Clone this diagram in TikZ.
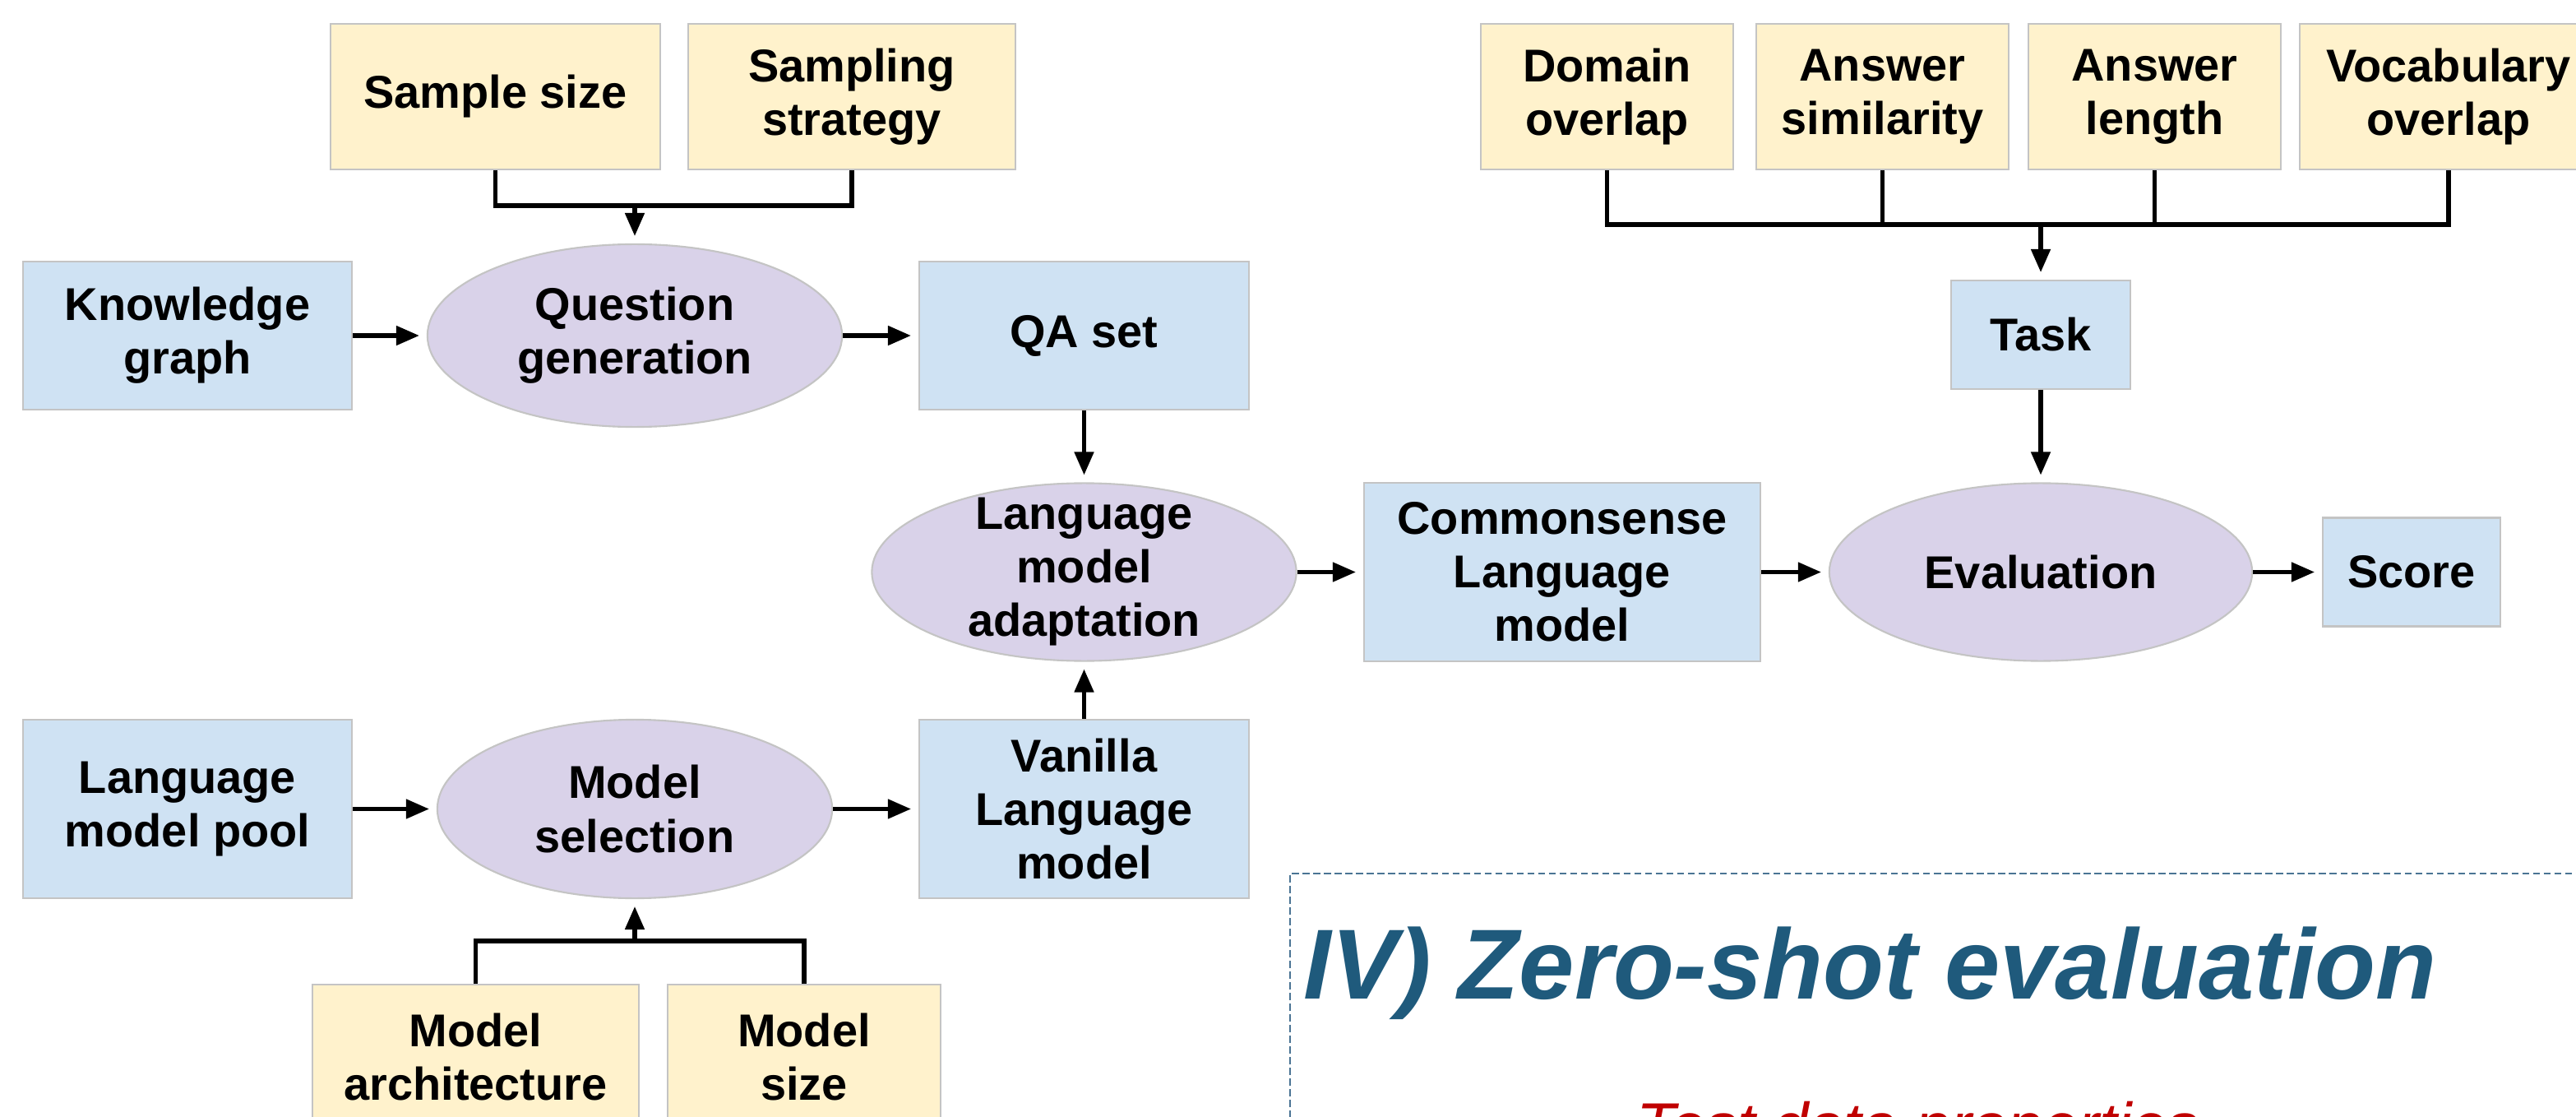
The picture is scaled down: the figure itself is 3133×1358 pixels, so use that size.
\documentclass[tikz,border=0pt]{standalone}
\usepackage{fontspec}
\setmainfont{Liberation Sans}
\usetikzlibrary{arrows.meta,shapes.geometric}

\definecolor{factorfill}{HTML}{FFF2CC}
\definecolor{datafill}{HTML}{CFE2F3}
\definecolor{procfill}{HTML}{D9D2E9}
\definecolor{rimgray}{HTML}{C4C4C4}
\definecolor{titleblue}{HTML}{1F5A7C}
\definecolor{frameblue}{HTML}{4A7494}
\definecolor{notered}{HTML}{C00000}

\begin{document}
\begin{tikzpicture}[x=0.01cm,y=-0.01cm,
  boxtext/.style={font=\bfseries\fontsize{15.9}{18.5}\selectfont, align=center},
  framed/.style={draw=rimgray, line width=0.6pt, inner sep=0pt},
  factorbox/.style={boxtext, framed, rectangle, fill=factorfill},
  databox/.style={boxtext, framed, rectangle, fill=datafill},
  procshape/.style={framed, ellipse, fill=procfill},
  proctext/.style={boxtext, inner sep=0pt},
  link/.style={line width=1.5pt, line join=miter},
  flow/.style={link, -{Triangle[length=8pt,width=6.5pt]}, shorten >=2.5pt},
]
\useasboundingbox (0,0) rectangle (3133,1358);
\fill[white] (0,0) rectangle (3133,1358);
\clip (0,0) rectangle (3133,1358);

% --- question generation branch ---
\node[factorbox, minimum width=4.01cm, minimum height=1.77cm] (ss) at (602.5,117.5) {Sample size};
\node[factorbox, minimum width=3.98cm, minimum height=1.77cm] (st) at (1036,117.5) {Sampling\\strategy};
\node[databox, minimum width=4.00cm, minimum height=1.80cm] (kg) at (228,408) {Knowledge\\graph};
\node[procshape, minimum width=5.04cm, minimum height=2.22cm] (qg) at (772,408) {};
\node[proctext] (qgt) at (qg) {Question\\generation};
\node[databox, minimum width=4.01cm, minimum height=1.80cm] (qa) at (1318.5,408) {QA set};

% --- model selection branch ---
\node[databox, minimum width=4.00cm, minimum height=2.17cm] (pool) at (228,983.5) {Language\\model pool};
\node[procshape, minimum width=4.80cm, minimum height=2.17cm] (ms) at (772,983.5) {};
\node[proctext] (mst) at (ms) {Model\\selection};
\node[databox, minimum width=4.01cm, minimum height=2.17cm] (van) at (1318.5,983.5) {Vanilla\\Language\\model};
\node[factorbox, minimum width=3.97cm, minimum height=1.76cm] (arch) at (578.5,1285) {Model\\architecture};
\node[factorbox, minimum width=3.32cm, minimum height=1.76cm] (msz) at (978,1285) {Model\\size};

% --- adaptation and evaluation ---
\node[procshape, minimum width=5.16cm, minimum height=2.16cm] (lma) at (1318.5,695.5) {};
\node[proctext] (lmat) at (lma) {Language\\model\\adaptation};
\node[databox, minimum width=4.82cm, minimum height=2.17cm] (clm) at (1900,695.5) {Commonsense\\Language\\model};
\node[procshape, minimum width=5.14cm, minimum height=2.16cm] (ev) at (2482,695.5) {};
\node[proctext] (evt) at (ev) {Evaluation};
\node[databox, minimum width=2.16cm, minimum height=1.32cm] (score) at (2933,695.5) {Score};
\node[databox, minimum width=2.18cm, minimum height=1.32cm] (task) at (2482,407) {Task};

% --- test data properties ---
\node[factorbox, minimum width=3.07cm, minimum height=1.77cm] (dom) at (1954.5,117.5) {Domain\\overlap};
\node[factorbox, minimum width=3.07cm, minimum height=1.77cm] (sim) at (2289.5,117.5) {Answer\\similarity};
\node[factorbox, minimum width=3.07cm, minimum height=1.77cm] (len) at (2620.5,117.5) {Answer\\length};
\node[factorbox, minimum width=3.62cm, minimum height=1.77cm] (voc) at (2978,117.5) {Vocabulary\\overlap};

% --- junction points of the merging connectors ---
\coordinate (sbus) at (772,250);
\coordinate (mbus) at (772,1144);
\coordinate (tbus) at (2482,273);

% --- connectors ---
\draw[link] (ss.south) |- (sbus) -| (st.south);
\draw[flow] (sbus) -- (qg);
\draw[flow] (kg) -- (qg);
\draw[flow] (qg) -- (qa);
\draw[flow] (qa) -- (lma);
\draw[flow] (van) -- (lma);
\draw[flow] (pool) -- (ms);
\draw[flow] (ms) -- (van);
\draw[link] (arch.north) |- (mbus) -| (msz.north);
\draw[flow] (mbus) -- (ms);
\draw[flow] (lma) -- (clm);
\draw[flow] (clm) -- (ev);
\draw[flow] (ev) -- (score);
\draw[flow] (task) -- (ev);
\draw[link] (dom.south) |- (tbus) -| (voc.south);
\draw[link] (sim.south) -- (sim.south |- tbus);
\draw[link] (len.south) -- (len.south |- tbus);
\draw[flow] (tbus) -- (task);

% --- stage frame and captions ---
\draw[frameblue, line width=0.75pt, dash pattern=on 2.4pt off 1.3pt]
  (1569,1450) -- (1569,1062) -- (3250,1062);
\node[anchor=base west, inner sep=0pt, text=titleblue,
      font=\bfseries\itshape\fontsize{34.4}{40}\selectfont] (title) at (1585,1214) {IV) Zero-shot evaluation};
\node[anchor=base west, inner sep=0pt, text=notered,
      font=\itshape\fontsize{22.1}{26}\selectfont] (note) at (1990,1395) {Test data properties};
\end{tikzpicture}
\end{document}
